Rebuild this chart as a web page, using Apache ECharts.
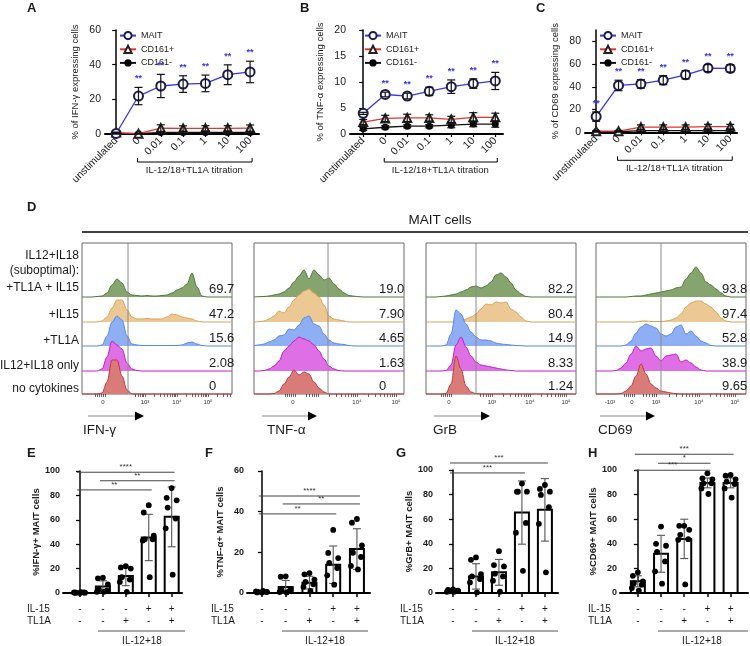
<!DOCTYPE html>
<html><head><meta charset="utf-8">
<script src="https://cdn.jsdelivr.net/npm/echarts@6/dist/echarts.min.js"></script>
<style>html,body{margin:0;padding:0;background:#fff}#c{width:750px;height:646px}</style>
</head><body><div id="c"></div>
<script>
// ================= DATA =================
// Panels A-C (titration)
const doseCats = ['unstimulated','0','0.01','0.1','1','10','100'];
const seriesNames = ['MAIT','CD161+','CD161-'];

const ifnMAIT = [0.3, 21.9, 27.7, 28.8, 29.2, 34.2, 35.8];
const ifnMAITsd = [0.4, 5.0, 6.7, 4.8, 4.8, 5.7, 6.2];
const ifnCD161p = [0.8, 0.2, 3.4, 3.2, 3.3, 3.3, 3.4];
const ifnCD161psd = [0.3, 0.2, 1.9, 1.5, 1.5, 1.5, 1.8];
const ifnCD161n = [0.3, 0.2, 0.9, 0.9, 0.9, 0.9, 0.9];
const ifnCD161nsd = [0.2, 0.2, 0.5, 0.5, 0.5, 0.5, 0.5];
const ifnStars = ['', '**', '**', '**', '**', '**', '**'];

const tnfMAIT = [3.97, 7.6, 7.3, 8.2, 9.1, 9.7, 10.2];
const tnfMAITsd = [0.2, 0.45, 0.55, 0.8, 1.3, 0.9, 1.65];
const tnfCD161p = [2.3, 3.0, 3.1, 3.1, 2.8, 3.2, 3.2];
const tnfCD161psd = [0.5, 0.6, 0.7, 0.6, 0.6, 0.9, 0.8];
const tnfCD161n = [1.0, 1.3, 1.5, 1.5, 1.7, 1.9, 1.9];
const tnfCD161nsd = [0.3, 0.3, 0.3, 0.3, 0.5, 0.5, 0.6];
const tnfStars = ['', '**', '**', '**', '**', '**', '**'];

const cd69MAIT = [13.8, 41.2, 42.6, 45.9, 50.6, 56.5, 56.2];
const cd69MAITsd = [4.1, 4.6, 3.7, 4.0, 3.7, 3.0, 3.2];
const cd69CD161p = [1.0, 1.0, 4.5, 4.5, 4.5, 5.0, 5.0];
const cd69CD161psd = [0.5, 0.5, 2, 2, 2, 2, 2];
const cd69CD161n = [0.5, 0.5, 1.5, 1.5, 1.5, 1.5, 1.5];
const cd69CD161nsd = [0.3, 0.3, 1, 1, 1, 1, 1];
const cd69Stars = ['**', '**', '**', '**', '**', '**', '**'];

// Panel D (histograms, bins every 5 channel units across the plot, 0..150)
const histRowLabels = ['+TL1A + IL15', '+IL15', '+TL1A', 'IL12+IL18 only', 'no cytokines'];
const histMarkers = ['IFN-γ', 'TNF-α', 'GrB', 'CD69'];
const histIFN = [
 [0,0,0,0.5,1,4,12,18,14,5, 2,1.5,1,1.5,1,1,1.5,2,4,7, 9,13,24,10,1,0,0,0,0,0, 0],
 [0,0,0,0,1,5,14,22,22,12, 5,3,3,3.5,3,3,3,5,8,7, 5,4,3,1,0,0,0,0,0,0, 0],
 [0,0,0,0,1,10,24,30,26,10, 2,1,0.5,0.5,0.5,0.5,0.5,0.5,0.5,0.5, 1,3,4,2,0.5,0,0,0,0,0, 0],
 [0,0,0,0,2,14,30,26,22,8, 2,0.5,0,0,0,0,0,0,0,0, 0,0,0,0,0,0,0,0,0,0, 0],
 [0,0,0,0,1,12,34,34,18,4, 0,0,0,0,0,0,0,0,0,0, 0,0,0,0,0,0,0,0,0,0, 0]
];
const histTNF = [
 [0,0.3,0.5,1,2,3,5,9,15,21, 27,18,27,22,17,19,13,8,4,1.5, 0.8,0.3,0,0,0,0,0,0,0,0, 0],
 [0,0.3,1,3,6,11,9,15,22,27, 31,33,29,25,17,6,3,2,1,0, 0,0,0,0,0,0,0,0,0,0, 0],
 [0.5,1,2,4,6,10,11,17,16,21, 28,30,22,20,12,6,3,2,1.5,0.5, 0,0,0,0,0,0,0,0,0,0, 0],
 [0,0,0.5,2,5,10,20,25,30,34, 32,30,26,20,12,5,2,0.5,0,0, 0,0,0,0,0,0,0,0,0,0, 0],
 [0,0,0,0,0.5,3,10,17,24,19, 22,20,12,6,2,0,0,0,0,0, 0,0,0,0,0,0,0,0,0,0, 0]
];
const histGrB = [
 [0,0,0,0.5,1,2,3,5,7,10, 11,9,11,15,22,24,20,14,7,3, 0.5,0,0,0,0,0,0,0,0,0, 0],
 [0,0,0,0,0,0,0,1,3,5, 8,13,18,17,20,19,20,13,10,5, 1,0,0,0,0,0,0,0,0,0, 0],
 [0,0,0,0,1,12,36,32,22,14, 9,6,6,5,3,2,1.5,1,0.5,0.3, 0,0,0,0,0,0,0,0,0,0, 0],
 [0,0,0,0,0.5,6,26,34,24,15, 9,6,5,4,3,2,1,0.5,0,0, 0,0,0,0,0,0,0,0,0,0, 0],
 [0,0,0,0,0.5,10,38,25,8,2, 0.5,0,0,0,0,0,0,0,0,0, 0,0,0,0,0,0,0,0,0,0, 0]
];
const histCD69 = [
 [0,0,0,0,0,0,0,0.5,1,1, 2,3,4,5,6,7,9,10,18,24, 30,24,15,12,8,4,1,0,0,0, 0],
 [0,0,0,0,0,0,0,0,0,1, 1,0.5,0.5,0.5,1,2,4,8,15,19, 21,21,18,15,10,4,1,0,0,0, 0],
 [0,0,0,0,0,0,1,5,13,19, 22,20,18,12,10,12,19,21,12,15, 10,5,3,0.5,0,0,0,0,0,0, 0],
 [0,0,0,0,0.5,3,8,17,25,20, 22,23,15,10,15,16,17,9,11,8, 4,1,0,0,0,0,0,0,0,0, 0],
 [0,0,0,0,0,0.5,3,8,18,30, 20,10,6,3,2,1,0.3,0,0,0, 0,0,0,0,0,0,0,0,0,0, 0]
];
const histPct = [
 ['69.7','47.2','15.6','2.08','0'],
 ['19.0','7.90','4.65','1.63','0'],
 ['82.2','80.4','14.9','8.33','1.24'],
 ['93.8','97.4','52.8','38.9','9.65']
];
const histGate = [46, 74, 50, 65];
const histMajorTicks = [
 [[21,'0'],[63,'10³'],[95,'10⁴'],[126,'10⁵']],
 [[39,'0'],[103,'10⁴'],[142,'10⁵']],
 [[23,'0'],[66,'10³'],[104,'10⁴'],[140,'10⁵']],
 [[14,'-10³'],[36,'0'],[60,'10³'],[103,'10⁴'],[139,'10⁵']]
];
const histDecades = [[63,95,126],[64,103,142],[66,104,140],[60,103,139]];
const histZero = [21, 39, 23, 36];

// Panels E-H
const il15Signs = ['-','-','-','+','+'];
const tl1aSigns = ['-','-','+','-','+'];
const E_mean = [0.3, 5.4, 13.9, 45.5, 62.4];
const E_sd = [0.3, 4.6, 7.9, 19, 24.5];
const E_dots = [[0.1,0.2,0.3,0.3,0.4,0.5,0.6],[12.5,12,7,3,2,1,1],[22,21,20,13,11,9,1],[72,66,47,44,44,43,13],[86,78,76,70,61,53,15]];
const E_sig = [[0,4,'****'],[1,4,'**'],[0,3,'**']];
const F_mean = [0.5, 3.0, 5.1, 13.9, 21.6];
const F_sd = [0.3, 3.2, 3.1, 9.2, 10];
const F_dots = [[0.2,0.3,0.5,0.5,0.6,0.8,1],[8.2,8,2,1.5,1,0.5,0.3],[9.8,9.2,6.6,5.4,4.3,3,1],[31,19.7,17.2,14.8,12.3,8.7,4.1],[36.4,34.6,23.4,19.8,17.7,13.3,11.6]];
const F_sig = [[0,4,'****'],[1,4,'**'],[0,3,'**']];
const G_mean = [2, 13.5, 16.8, 65.4, 67.6];
const G_sd = [0.8, 10.3, 10.5, 25.7, 25.4];
const G_dots = [[3,2.5,2,2,1.5,1,1],[28.9,27,15.4,13.5,11.4,8.6,0.5],[34,22.7,21.6,15.7,13.5,10,1],[89,82.4,82.4,82.4,57,49,18],[87.8,84.6,82.4,79.7,69.7,56.2,16.8]];
const G_sig = [[0,4,'***'],[0,3,'***']];
const H_mean = [9.5, 31.9, 44, 89.5, 89.5];
const H_sd = [4.5, 15, 16, 4, 4];
const H_dots = [[16.8,14,9.5,8,6.8,4,2],[54,40,38.4,33.5,25.7,17.6,7.6],[54.6,54.6,51.4,47.3,43.8,43.2,7],[97.3,93.2,92.4,89.2,89.2,85,80.5],[96,95.4,92.4,90.5,88.6,85,77.6]];
const H_sig = [[0,4,'***'],[1,3,'*'],[0,3,'***']];

// ================= LAYOUT / STYLE =================
const FF = '"Liberation Sans", Arial, Helvetica, sans-serif';
const grids = [], xAxes = [], yAxes = [], series = [], legends = [], graphics = [];
function addGrid(grid, xa, ya) {
  const gi = grids.length;
  grids.push(grid);
  xAxes.push(Object.assign({gridIndex: gi}, xa));
  yAxes.push(Object.assign({gridIndex: gi}, ya));
  return gi;
}
function gText(x, y, text, font, opts) {
  graphics.push({type: 'text', z: 100, x: x, y: y,
    style: Object.assign({text: text, font: font, fill: '#1a1a1a', textAlign: 'left', textVerticalAlign: 'middle'}, opts || {})});
}
function gLine(x1, y1, x2, y2, color, w) {
  graphics.push({type: 'line', z: 100, shape: {x1: x1, y1: y1, x2: x2, y2: y2}, style: {stroke: color || '#000', lineWidth: w || 1}});
}

// ---------- A-C ----------
const groupStyles = [
  {symbol: 'emptyCircle', size: 9, line: '#3535f0', item: '#1c1c4a', z: 5},
  {symbol: 'emptyTriangle', size: 8, line: '#e3352c', item: '#222', z: 4},
  {symbol: 'circle', size: 7, line: '#111', item: '#000', z: 3}
];
const linePanels = [
  {gLeft: 105, gTop: 30, gW: 154, gH: 104, xmin: -0.5, xmax: 6.4, ymax: 60, yticks: [0,20,40,60],
   yname: '% of IFN-γ expressing cells', legendLeft: 114,
   groups: [[ifnMAIT, ifnMAITsd], [ifnCD161p, ifnCD161psd], [ifnCD161n, ifnCD161nsd]], stars: ifnStars},
  {gLeft: 350, gTop: 30, gW: 153, gH: 104, xmin: -0.6, xmax: 6.35, ymax: 20, yticks: [0,5,10,15,20],
   yname: '% of TNF-α expressing cells', legendLeft: 359,
   groups: [[tnfMAIT, tnfMAITsd], [tnfCD161p, tnfCD161psd], [tnfCD161n, tnfCD161nsd]], stars: tnfStars},
  {gLeft: 585, gTop: 30, gW: 152, gH: 102.3, xmin: -0.5, xmax: 6.3, ymax: 90, yticks: [0,20,40,60,80],
   yname: '% of CD69 expressing cells', legendLeft: 594,
   groups: [[cd69MAIT, cd69MAITsd], [cd69CD161p, cd69CD161psd], [cd69CD161n, cd69CD161nsd]], stars: cd69Stars}
];
const catIdx = doseCats.map((c, i) => i);
linePanels.forEach(lp => {
  const gi = addGrid({left: lp.gLeft, top: lp.gTop, width: lp.gW, height: lp.gH},
    {type: 'value', min: lp.xmin, max: lp.xmax, splitLine: {show: false},
     axisLine: {show: true, lineStyle: {color: '#000', width: 2}},
     axisTick: {show: true, customValues: catIdx, length: 3, lineStyle: {color: '#000', width: 1.2}},
     axisLabel: {customValues: catIdx, formatter: v => doseCats[v], rotate: 45, fontSize: 10.5, color: '#1a1a1a', margin: 5, fontFamily: FF}},
    {type: 'value', min: 0, max: lp.ymax, splitLine: {show: false},
     axisLine: {show: true, lineStyle: {color: '#000', width: 1.5}},
     axisTick: {show: true, customValues: lp.yticks, length: 4, lineStyle: {color: '#000', width: 1.2}},
     axisLabel: {customValues: lp.yticks, fontSize: 10.5, color: '#1a1a1a', margin: 4, fontFamily: FF},
     name: lp.yname, nameLocation: 'middle', nameGap: 25, nameTextStyle: {fontSize: 9.5, color: '#1a1a1a', fontFamily: FF}});
  lp.gi = gi;
  lp.groups.forEach((g, k) => {
    const st = groupStyles[k];
    series.push({type: 'line', name: seriesNames[k], xAxisIndex: gi, yAxisIndex: gi, z: st.z,
      data: g[0].map((v, i) => [i, v]), symbol: st.symbol, symbolSize: st.size, showAllSymbol: true,
      lineStyle: {color: st.line, width: 1.3}, itemStyle: {color: st.item, borderWidth: 1.3}, silent: true});
    series.push({type: 'custom', xAxisIndex: gi, yAxisIndex: gi, z: 6, silent: true,
      data: g[0].map((v, i) => [i, v, g[1][i]]),
      renderItem: (p, api) => {
        const x = api.value(0), m = api.value(1), s = api.value(2);
        const t = api.coord([x, m + s]), b = api.coord([x, Math.max(0, m - s)]);
        const w = 4, ls = {stroke: '#111', lineWidth: 1.2};
        return {type: 'group', children: [
          {type: 'line', shape: {x1: t[0], y1: t[1], x2: b[0], y2: b[1]}, style: ls},
          {type: 'line', shape: {x1: t[0] - w, y1: t[1], x2: t[0] + w, y2: t[1]}, style: ls},
          {type: 'line', shape: {x1: b[0] - w, y1: b[1], x2: b[0] + w, y2: b[1]}, style: ls}]};
      }});
  });
  const mait = lp.groups[0];
  series.push({type: 'custom', xAxisIndex: gi, yAxisIndex: gi, z: 7, silent: true,
    data: mait[0].map((v, i) => [i, v + mait[1][i], i]),
    renderItem: (p, api) => {
      const c = api.coord([api.value(0), api.value(1)]);
      return {type: 'text', x: c[0], y: c[1] - 4, style: {text: lp.stars[api.value(2)], fill: '#3434f0',
        font: 'bold 9px ' + FF, textAlign: 'center', textVerticalAlign: 'bottom'}};
    }});
  legends.push({left: lp.legendLeft, top: 26, orient: 'vertical', itemGap: 4.5, itemWidth: 16, itemHeight: 9,
    data: seriesNames, selectedMode: false, textStyle: {fontSize: 9, color: '#1a1a1a', fontFamily: FF}});
});

// ---------- D ----------
const hBoxLeft = [82, 254, 426, 596];
const hBoxW = 150, hBoxTop = 243, hBoxBottom = 394;
const rowBase = [297, 322, 346, 371, 394];
const rowFill = ['#86a56e', '#ecc894', '#8eaff4', '#df6fe4', '#d97b79'];
const rowLine = ['#4c7838', '#dba257', '#5a85ee', '#c41ccc', '#c03a3a'];
const allHist = [histIFN, histTNF, histGrB, histCD69];
const binX = histIFN[0].map((v, k) => k * 5);
allHist.forEach((H, p) => {
  const L = hBoxLeft[p];
  const majors = histMajorTicks[p];
  const dec = histDecades[p];
  const minors = [];
  const z0 = histZero[p];
  [-8, -6, -4, -2, 0, 2].forEach(d => minors.push(z0 + d));
  const span = dec[1] - dec[0];
  const ends = dec.concat([dec[dec.length - 1] + span]);
  for (let j = 0; j < ends.length - 1; j++) {
    for (let k = 1; k <= 9; k++) {
      const pos = ends[j] + (ends[j + 1] - ends[j]) * Math.log10(k);
      if (pos <= 149) minors.push(pos);
    }
  }
  for (let k = 5; k <= 9; k++) minors.push(dec[0] - span + span * Math.log10(k));
  const majorMap = {};
  majors.forEach(m => { majorMap[m[0]] = m[1]; });
  const fi = addGrid({left: L, top: hBoxTop, width: hBoxW, height: hBoxBottom - hBoxTop, show: true,
      borderColor: '#6a6a6a', borderWidth: 1, backgroundColor: 'transparent'},
    {type: 'value', min: 0, max: 150, splitLine: {show: false}, axisLine: {show: false},
     axisTick: {show: true, customValues: minors, length: 3, lineStyle: {color: '#222', width: 0.7}},
     axisLabel: {customValues: majors.map(m => m[0]), formatter: v => majorMap[v] || '', fontSize: 6, color: '#333', margin: 5, fontFamily: FF}},
    {type: 'value', min: 0, max: 1, show: false});
  series.push({type: 'line', xAxisIndex: fi, yAxisIndex: fi, z: 20, silent: true, symbol: 'none',
    data: [[histGate[p], 0], [histGate[p], 1]], lineStyle: {color: '#8a8a8a', width: 1}});
  H.forEach((row, r) => {
    const gi = addGrid({left: L, top: rowBase[r] - 45, width: hBoxW, height: 45},
      {type: 'value', min: 0, max: 150, show: false},
      {type: 'value', min: 0, max: 45, show: false});
    series.push({type: 'line', xAxisIndex: gi, yAxisIndex: gi, z: 3 + r, silent: true, symbol: 'none',
      smooth: 0.35, smoothMonotone: 'x', clip: false,
      data: row.map((v, k) => [binX[k], v]),
      lineStyle: {color: rowLine[r], width: 1}, areaStyle: {color: rowFill[r], opacity: 1}});
  });
});

// ---------- E-H ----------
const jitter = [0, -5, 5, -4, 4, -6, 1];
const barPanels = [
  {gLeft: 63, gTop: 471, gW: 119, gH: 122, xmin: -0.74, xmax: 4.45, ymax: 100, yticks: [0,20,40,60,80,100],
   yname: '%IFN-γ+ MAIT cells', mean: E_mean, sd: E_sd, dots: E_dots, sig: E_sig, sigY: [99, 92, 84.5],
   rowLabelX: 27, bracket: [98, 185], bracketText: 142, letter: ['E', 27]},
  {gLeft: 247, gTop: 471, gW: 123, gH: 122, xmin: -0.63, xmax: 4.55, ymax: 60, yticks: [0,20,40,60],
   yname: '%TNF-α+ MAIT cells', mean: F_mean, sd: F_sd, dots: F_dots, sig: F_sig, sigY: [47.7, 43.8, 38.9],
   rowLabelX: 211, bracket: [282, 368], bracketText: 325, letter: ['F', 205]},
  {gLeft: 436, gTop: 470, gW: 122, gH: 123, xmin: -0.74, xmax: 4.57, ymax: 100, yticks: [0,20,40,60,80,100],
   yname: '%GrB+ MAIT cells', mean: G_mean, sd: G_sd, dots: G_dots, sig: G_sig, sigY: [105.7, 97.6],
   rowLabelX: 400, bracket: [472, 558], bracketText: 515, letter: ['G', 396]},
  {gLeft: 620, gTop: 470, gW: 128, gH: 123, xmin: -0.77, xmax: 4.75, ymax: 100, yticks: [0,20,40,60,80,100],
   yname: '%CD69+ MAIT cells', mean: H_mean, sd: H_sd, dots: H_dots, sig: H_sig, sigY: [112.8, 105.5, 99.8],
   rowLabelX: 588, bracket: [658, 748], bracketText: 702, letter: ['H', 588]}
];
const barIdx = [0, 1, 2, 3, 4];
barPanels.forEach(bp => {
  const gi = addGrid({left: bp.gLeft, top: bp.gTop, width: bp.gW, height: bp.gH},
    {type: 'value', min: bp.xmin, max: bp.xmax, splitLine: {show: false},
     axisLine: {show: true, lineStyle: {color: '#000', width: 2}},
     axisTick: {show: true, customValues: barIdx, length: 4, lineStyle: {color: '#000', width: 1.5}},
     axisLabel: {customValues: barIdx, formatter: v => il15Signs[v] + '\n' + tl1aSigns[v], fontSize: 10, lineHeight: 12,
       color: '#1a1a1a', margin: 10, fontFamily: FF}},
    {type: 'value', min: 0, max: bp.ymax, splitLine: {show: false},
     axisLine: {show: true, lineStyle: {color: '#000', width: 1.5}},
     axisTick: {show: true, customValues: bp.yticks, length: 4, lineStyle: {color: '#000', width: 1.3}},
     axisLabel: {customValues: bp.yticks, fontSize: 9, fontWeight: 'bold', color: '#1a1a1a', margin: 3, fontFamily: FF},
     name: bp.yname, nameLocation: 'middle', nameGap: 22, nameTextStyle: {fontSize: 9.5, fontWeight: 'bold', color: '#1a1a1a', fontFamily: FF}});
  series.push({type: 'custom', xAxisIndex: gi, yAxisIndex: gi, z: 2, silent: true,
    data: bp.mean.map((m, i) => [i, m]),
    renderItem: (p, api) => {
      const b = api.coord([api.value(0), 0]), t = api.coord([api.value(0), api.value(1)]);
      return {type: 'rect', shape: {x: b[0] - 7, y: t[1], width: 14, height: b[1] - t[1]},
        style: {fill: '#fff', stroke: '#000', lineWidth: 2}};
    }});
  series.push({type: 'custom', xAxisIndex: gi, yAxisIndex: gi, z: 3, silent: true,
    data: bp.mean.map((m, i) => [i, m, bp.sd[i]]),
    renderItem: (p, api) => {
      const x = api.value(0), m = api.value(1), s = api.value(2);
      const t = api.coord([x, m + s]), b = api.coord([x, Math.max(0, m - s)]);
      const w = 4, ls = {stroke: '#555', lineWidth: 1.1};
      return {type: 'group', children: [
        {type: 'line', shape: {x1: t[0], y1: t[1], x2: b[0], y2: b[1]}, style: ls},
        {type: 'line', shape: {x1: t[0] - w, y1: t[1], x2: t[0] + w, y2: t[1]}, style: ls},
        {type: 'line', shape: {x1: b[0] - w, y1: b[1], x2: b[0] + w, y2: b[1]}, style: ls}]};
    }});
  const dotData = [];
  bp.dots.forEach((arr, i) => arr.forEach((v, k) => dotData.push([i, v, k])));
  series.push({type: 'custom', xAxisIndex: gi, yAxisIndex: gi, z: 4, silent: true, data: dotData,
    renderItem: (p, api) => {
      const c = api.coord([api.value(0), api.value(1)]);
      return {type: 'circle', shape: {cx: c[0] + jitter[api.value(2)], cy: c[1], r: 2.9}, style: {fill: '#000'}};
    }});
  series.push({type: 'custom', xAxisIndex: gi, yAxisIndex: gi, z: 5, silent: true, clip: false,
    data: bp.sig.map((s, k) => [s[0], bp.sigY[k], s[1], k]),
    renderItem: (p, api) => {
      const y = api.value(1);
      const a = api.coord([api.value(0), y]), b = api.coord([api.value(2), y]);
      return {type: 'group', children: [
        {type: 'line', shape: {x1: a[0] - 3, y1: a[1], x2: b[0] + 3, y2: b[1]}, style: {stroke: '#444', lineWidth: 1}},
        {type: 'text', x: (a[0] + b[0]) / 2, y: a[1] - 1, style: {text: bp.sig[api.value(3)][2], fill: '#333',
          font: '8px ' + FF, textAlign: 'center', textVerticalAlign: 'bottom'}}]};
    }});
  gText(bp.rowLabelX, 609, 'IL-15', '10px ' + FF);
  gText(bp.rowLabelX, 621, 'TL1A', '10px ' + FF);
  gLine(bp.bracket[0], 631, bp.bracket[1], 631, '#555', 1);
  gText(bp.bracketText, 641, 'IL-12+18', '10px ' + FF, {textAlign: 'center'});
  gText(bp.letter[1], 453, bp.letter[0], 'bold 13px ' + FF);
});

// ---------- static text for A-D ----------
gText(27, 8, 'A', 'bold 13px ' + FF);
gText(300, 8, 'B', 'bold 13px ' + FF);
gText(536, 8, 'C', 'bold 13px ' + FF);
gText(27, 207, 'D', 'bold 13px ' + FF);
gText(440, 220, 'MAIT cells', '13.5px ' + FF, {textAlign: 'center'});
gLine(82, 232, 748, 232, '#000', 1.5);
[['IL12+IL18', 256], ['(suboptimal):', 271]].forEach(t => gText(79, t[1], t[0], '12px ' + FF, {textAlign: 'right'}));
const rowLabelY = [288, 315, 341, 366, 389];
histRowLabels.forEach((t, r) => gText(79, rowLabelY[r], t, '12px ' + FF, {textAlign: 'right'}));
const numLeft = [209, 379, 548, 722];
histPct.forEach((arr, p) => arr.forEach((t, r) => gText(numLeft[p], rowBase[r] - 7.5, t, '13px ' + FF)));
const arrowStart = [6, 8, 8, 4], arrowEnd = [62, 63, 64, 59], nameX = [83, 267, 433, 598];
hBoxLeft.forEach((L, p) => {
  gLine(L + arrowStart[p], 416, L + arrowEnd[p] - 6, 416, '#8a8a8a', 1);
  graphics.push({type: 'polygon', z: 100, shape: {points: [[L + arrowEnd[p] - 9, 411.5], [L + arrowEnd[p], 416], [L + arrowEnd[p] - 9, 420.5]]}, style: {fill: '#000'}});
  gText(nameX[p], 430, histMarkers[p], '13.5px ' + FF);
});

const option = {
  animation: false, backgroundColor: '#fff', textStyle: {fontFamily: FF},
  grid: grids, xAxis: xAxes, yAxis: yAxes, series: series, legend: legends
};
const chart = echarts.init(document.getElementById('c'));
chart.setOption(option);
linePanels.forEach(lp => {
  const p1 = chart.convertToPixel({gridIndex: lp.gi}, [1, 0]);
  const p6 = chart.convertToPixel({gridIndex: lp.gi}, [6, 0]);
  const y = p1[1] + 28;
  gLine(p1[0] - 1, y, p6[0] + 2, y, '#000', 1);
  gLine(p1[0] - 1, y, p1[0] - 1, y - 4, '#000', 1);
  gLine(p6[0] + 2, y, p6[0] + 2, y - 4, '#000', 1);
  gText((p1[0] + p6[0]) / 2, y + 8, 'IL-12/18+TL1A titration', '9.5px ' + FF, {textAlign: 'center'});
});
chart.setOption({graphic: graphics});
</script>
</body></html>
